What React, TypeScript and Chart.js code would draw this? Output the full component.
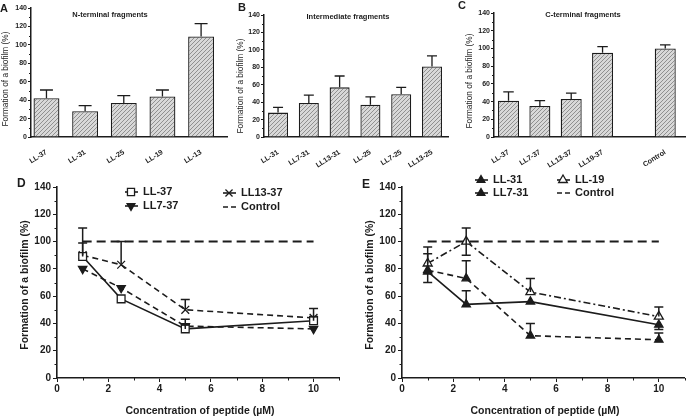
import React, { useEffect, useRef } from 'react';
import { Chart, registerables } from 'chart.js';

Chart.register(...registerables);

const FONT = '"Liberation Sans", Arial, Helvetica, sans-serif';
const INK = '#1c1c1c';

// ---------- Panel A: N-terminal fragments ----------
const A_LABELS = ['LL-37', 'LL-31', 'LL-25', 'LL-19', 'LL-13'];
const A_VALUES = [42, 28, 37, 44, 109];
const A_ERR = [9, 6, 8, 7, 14];

// ---------- Panel B: Intermediate fragments ----------
const B_LABELS = ['LL-31', 'LL7-31', 'LL13-31', 'LL-25', 'LL7-25', 'LL13-25'];
const B_VALUES = [28, 39, 57, 37, 49, 81];
const B_ERR = [6, 9, 13, 9, 8, 12];

// ---------- Panel C: C-terminal fragments ----------
const C_LABELS = ['LL-37', 'LL7-37', 'LL13-37', 'LL19-37', '', 'Control'];
const C_VALUES: (number | null)[] = [41, 35, 43, 95, null, 100];
const C_ERR = [10, 6, 6.5, 7, 0, 4];

// ---------- Panels D and E: concentration series ----------
const CONC = [1, 2.5, 5, 10];
const CONTROL_X = [1, 10];
const CONTROL_Y = [100, 100];

const D_LL37 = [89, 58, 36, 42];
const D_LL37_UP = [21, 0, 3, 3];
const D_LL7_37 = [80, 66, 38, 36];
const D_LL7_37_UP = [0, 0, 5, 0];
const D_LL13_37 = [90, 83, 50, 44];
const D_LL13_37_UP = [9, 17, 7.5, 7];

const E_LL31 = [79, 73, 31, 28];
const E_LL31_UP = [12, 13, 9, 5];
const E_LL31_DOWN = [0, 0, 0, 0];
const E_LL7_31 = [78, 54, 56, 39];
const E_LL7_31_UP = [0, 10, 0, 0];
const E_LL7_31_DOWN = [8, 0, 0, 3.5];
const E_LL19 = [84, 100, 63, 45];
const E_LL19_UP = [12, 10, 10, 7];
const E_LL19_DOWN = [0, 10, 0, 0];

const Y_TICK_STEP = 20;
const Y_MAX = 140;
const Y_MINOR = [10, 30, 50, 70, 90, 110, 130];
const X_MINOR = [1, 3, 5, 7, 9, 11];

function font(size: number, bold = true) {
  return `${bold ? 'bold ' : ''}${size}px ${FONT}`;
}

function makeHatch(): CanvasPattern | string {
  const c = document.createElement('canvas');
  c.width = 4;
  c.height = 4;
  const g = c.getContext('2d');
  if (!g) return '#cfcfcf';
  g.fillStyle = '#d8d8d8';
  g.fillRect(0, 0, 4, 4);
  g.strokeStyle = '#7e7e7e';
  g.lineWidth = 0.8;
  g.beginPath();
  g.moveTo(0, 4); g.lineTo(4, 0);
  g.moveTo(-1, 1); g.lineTo(1, -1);
  g.moveTo(3, 5); g.lineTo(5, 3);
  g.stroke();
  return g.createPattern(c, 'repeat') || '#cfcfcf';
}

function drawMarker(ctx: CanvasRenderingContext2D, style: string, x: number, y: number, r: number, filled: boolean, rot = 0) {
  ctx.save();
  ctx.setLineDash([]);
  ctx.strokeStyle = INK;
  ctx.fillStyle = INK;
  ctx.lineWidth = 1.3;
  ctx.translate(x, y);
  ctx.rotate((rot * Math.PI) / 180);
  ctx.beginPath();
  if (style === 'rect') {
    const s = r * Math.SQRT1_2;
    ctx.rect(-s, -s, 2 * s, 2 * s);
  } else if (style === 'triangle') {
    ctx.moveTo(0, -r);
    ctx.lineTo(r * 0.866, r * 0.5);
    ctx.lineTo(-r * 0.866, r * 0.5);
    ctx.closePath();
  } else if (style === 'crossRot') {
    const s = r * Math.SQRT1_2;
    ctx.moveTo(-s, -s); ctx.lineTo(s, s);
    ctx.moveTo(s, -s); ctx.lineTo(-s, s);
  }
  if (filled && style !== 'crossRot') ctx.fill();
  else if (style !== 'crossRot') { ctx.fillStyle = '#fff'; ctx.fill(); }
  ctx.stroke();
  ctx.restore();
}

type Txt = { text: string; x: number; y: number; font: string; align?: CanvasTextAlign; rot?: number };

function drawTexts(ctx: CanvasRenderingContext2D, texts: Txt[]) {
  texts.forEach((t) => {
    ctx.save();
    ctx.fillStyle = INK;
    ctx.font = t.font;
    ctx.textAlign = t.align || 'center';
    ctx.textBaseline = 'middle';
    ctx.translate(t.x, t.y);
    if (t.rot) ctx.rotate(t.rot);
    ctx.fillText(t.text, 0, 0);
    ctx.restore();
  });
}

function drawMinorY(chart: any, len: number) {
  const ctx = chart.ctx;
  const ys = chart.scales.y;
  const left = chart.chartArea.left;
  ctx.save();
  ctx.strokeStyle = INK;
  ctx.lineWidth = 1;
  ctx.beginPath();
  Y_MINOR.forEach((v) => {
    const y = Math.round(ys.getPixelForValue(v)) + 0.5;
    ctx.moveTo(left - len, y);
    ctx.lineTo(left, y);
  });
  ctx.stroke();
  ctx.restore();
}

function drawMinorX(chart: any, len: number) {
  const ctx = chart.ctx;
  const xs = chart.scales.x;
  const bottom = chart.chartArea.bottom;
  ctx.save();
  ctx.strokeStyle = INK;
  ctx.lineWidth = 1;
  ctx.beginPath();
  X_MINOR.forEach((v) => {
    const x = Math.round(xs.getPixelForValue(v)) + 0.5;
    ctx.moveTo(x, bottom);
    ctx.lineTo(x, bottom + len);
  });
  ctx.stroke();
  ctx.restore();
}

// ---------------- Bar panels ----------------
type BarSpec = {
  left: number; width: number; height: number;
  axisX: number; rightX: number; topY: number; bottomY: number;
  labels: string[]; values: (number | null)[]; errs: number[];
  xMin: number; xMax: number; barPct: number;
  title: string; titleX: number; titleY: number;
  letter: string; letterX: number; letterY: number;
  yTitleX: number; yTitleY: number;
};

function barConfig(s: BarSpec): any {
  const off = s.left;
  const decor = {
    id: 'decor',
    afterDatasetsDraw(chart: any) {
      const ctx = chart.ctx;
      const ys = chart.scales.y;
      chart.data.datasets.forEach((ds: any, di: number) => {
        const meta = chart.getDatasetMeta(di);
        meta.data.forEach((el: any, i: number) => {
          const v = ds.data[i].y;
          const e = ds.err[i];
          if (v == null || !e) return;
          const top = ys.getPixelForValue(v + e);
          const w = el.width / 2;
          ctx.save();
          ctx.strokeStyle = INK;
          ctx.lineWidth = 1.3;
          ctx.beginPath();
          ctx.moveTo(el.x, el.y);
          ctx.lineTo(el.x, top);
          ctx.moveTo(el.x - w / 2, top);
          ctx.lineTo(el.x + w / 2, top);
          ctx.stroke();
          ctx.restore();
        });
      });
    },
    afterDraw(chart: any) {
      drawMinorY(chart, 2);
      drawTexts(chart.ctx, [
        { text: s.title, x: s.titleX - off, y: s.titleY, font: font(7.5) },
        { text: s.letter, x: s.letterX - off, y: s.letterY, font: font(11), align: 'left' },
        { text: 'Formation of a biofilm (%)', x: s.yTitleX - off, y: s.yTitleY, font: font(8.3, false), rot: -Math.PI / 2 },
      ]);
    },
  };
  return {
    type: 'bar',
    data: {
      datasets: [{
        data: s.values.map((y, i) => ({ x: i, y })),
        err: s.errs,
        backgroundColor: makeHatch(),
        borderColor: INK,
        borderWidth: 1.3,
        borderSkipped: 'start',
        barPercentage: s.barPct,
        categoryPercentage: 1,
      }],
    },
    options: {
      animation: false,
      responsive: false,
      devicePixelRatio: 1,
      layout: { padding: { left: 0, top: s.topY, right: s.width - (s.rightX - off), bottom: 0 } },
      plugins: { legend: { display: false }, tooltip: { enabled: false }, title: { display: false } },
      scales: {
        x: {
          type: 'linear', min: s.xMin, max: s.xMax, offset: false,
          afterFit: (sc: any) => { sc.height = s.height - s.bottomY; },
          grid: { display: false, offset: false },
          border: { display: true, color: INK, width: 1.5 },
          ticks: {
            stepSize: 1, includeBounds: false, autoSkip: false, minRotation: 32, maxRotation: 32,
            color: INK, font: { family: FONT, size: 7.2, weight: 'bold' }, padding: 3,
            callback: (v: number) => (Number.isInteger(v) ? s.labels[v] ?? '' : ''),
          },
        },
        y: {
          min: 0, max: Y_MAX,
          afterFit: (sc: any) => { sc.width = s.axisX - off; },
          grid: { display: true, drawOnChartArea: false, drawTicks: true, tickLength: 3, color: INK, lineWidth: 1 },
          border: { display: true, color: INK, width: 1.5 },
          ticks: { stepSize: Y_TICK_STEP, color: INK, font: { family: FONT, size: 7, weight: 'bold' }, padding: 1 },
        },
      },
    },
    plugins: [decor],
  };
}

// ---------------- Line panels ----------------
type Series = {
  label: string; values: number[]; up: number[]; down: number[];
  dash: number[]; style: string; rot: number; r: number; filled: boolean;
};

type LineSpec = {
  left: number; top: number; width: number; height: number;
  axisX: number; topY: number; bottomY: number;
  series: Series[]; letter: string; letterY: number;
  legend: { label: string; dash: number[]; style: string | null; rot: number; r: number; filled: boolean; x: number; y: number }[];
};

function lineConfig(s: LineSpec): any {
  const decor = {
    id: 'decor',
    afterDatasetsDraw(chart: any) {
      const ctx = chart.ctx;
      const ys = chart.scales.y;
      chart.data.datasets.forEach((ds: any, di: number) => {
        if (!ds.up) return;
        const meta = chart.getDatasetMeta(di);
        meta.data.forEach((el: any, i: number) => {
          const v = ds.data[i].y;
          const up = ds.up[i] || 0;
          const dn = ds.down ? ds.down[i] || 0 : 0;
          if (!up && !dn) return;
          const top = ys.getPixelForValue(v + up);
          const bot = ys.getPixelForValue(v - dn);
          ctx.save();
          ctx.setLineDash([]);
          ctx.strokeStyle = INK;
          ctx.lineWidth = 1.5;
          ctx.beginPath();
          ctx.moveTo(el.x, bot);
          ctx.lineTo(el.x, top);
          if (up) { ctx.moveTo(el.x - 4.5, top); ctx.lineTo(el.x + 4.5, top); }
          if (dn) { ctx.moveTo(el.x - 4.5, bot); ctx.lineTo(el.x + 4.5, bot); }
          ctx.stroke();
          ctx.restore();
        });
      });
    },
    afterDraw(chart: any) {
      const ctx = chart.ctx;
      drawMinorY(chart, 2.5);
      drawMinorX(chart, 2.5);
      s.legend.forEach((l) => {
        ctx.save();
        ctx.strokeStyle = INK;
        ctx.lineWidth = 1.6;
        ctx.setLineDash(l.dash);
        ctx.beginPath();
        ctx.moveTo(l.x - 6, l.y);
        ctx.lineTo(l.x + 7, l.y);
        ctx.stroke();
        ctx.restore();
        if (l.style) drawMarker(ctx, l.style, l.x, l.y, l.r, l.filled, l.rot);
      });
      drawTexts(ctx, [
        ...s.legend.map((l) => ({ text: l.label, x: l.x + 12, y: l.y, font: font(11), align: 'left' as CanvasTextAlign })),
        { text: s.letter, x: 17, y: s.letterY, font: font(12), align: 'left' },
        { text: 'Formation of a biofilm (%)', x: 25, y: 120, font: font(10.5, true), rot: -Math.PI / 2 },
        { text: 'Concentration of peptide (\u00b5M)', x: 200, y: 246, font: font(10.5, true) },
      ]);
    },
  };
  const datasets: any[] = s.series.map((se) => ({
    label: se.label,
    data: CONC.map((x, i) => ({ x, y: se.values[i] })),
    up: se.up,
    down: se.down,
    borderColor: INK,
    borderWidth: 1.6,
    borderDash: se.dash,
    pointStyle: se.style,
    pointRotation: se.rot,
    pointRadius: se.r,
    pointBorderWidth: 1.3,
    pointBorderColor: INK,
    pointBackgroundColor: se.filled ? INK : '#ffffff',
    tension: 0,
    fill: false,
  }));
  datasets.push({
    label: 'Control',
    data: CONTROL_X.map((x, i) => ({ x, y: CONTROL_Y[i] })),
    borderColor: INK,
    borderWidth: 2,
    borderDash: [9, 5],
    pointRadius: 0,
    fill: false,
  });
  return {
    type: 'line',
    data: { datasets },
    options: {
      animation: false,
      responsive: false,
      devicePixelRatio: 1,
      layout: { padding: { left: 0, top: s.topY - s.top, right: 0, bottom: 0 } },
      plugins: { legend: { display: false }, tooltip: { enabled: false }, title: { display: false } },
      scales: {
        x: {
          type: 'linear', min: 0, max: 11,
          afterFit: (sc: any) => { sc.height = s.height - (s.bottomY - s.top); },
          grid: { display: true, drawOnChartArea: false, drawTicks: true, tickLength: 4, color: INK, lineWidth: 1 },
          border: { display: true, color: INK, width: 1.6 },
          ticks: { stepSize: 2, includeBounds: false, color: INK, font: { family: FONT, size: 10, weight: 'bold' }, padding: 1, maxRotation: 0 },
        },
        y: {
          min: 0, max: Y_MAX,
          afterFit: (sc: any) => { sc.width = s.axisX - s.left; },
          grid: { display: true, drawOnChartArea: false, drawTicks: true, tickLength: 4, color: INK, lineWidth: 1 },
          border: { display: true, color: INK, width: 1.6 },
          ticks: { stepSize: Y_TICK_STEP, color: INK, font: { family: FONT, size: 10, weight: 'bold' }, padding: 2 },
        },
      },
    },
    plugins: [decor],
  };
}

function ChartBox({ left, top, width, height, make }: { left: number; top: number; width: number; height: number; make: () => any }) {
  const ref = useRef<HTMLCanvasElement | null>(null);
  useEffect(() => {
    if (!ref.current) return;
    const chart = new Chart(ref.current, make());
    return () => chart.destroy();
  }, []);
  return (
    <canvas
      ref={ref}
      width={width}
      height={height}
      style={{ position: 'absolute', left, top, width, height }}
    />
  );
}

const BAR_H = 176;

const SPEC_A: BarSpec = {
  left: 0, width: 232, height: BAR_H, axisX: 31, rightX: 227, topY: 8, bottomY: 137,
  labels: A_LABELS, values: A_VALUES, errs: A_ERR, xMin: -0.4, xMax: 4.67, barPct: 0.67,
  title: 'N-terminal fragments', titleX: 110, titleY: 15,
  letter: 'A', letterX: 0, letterY: 9, yTitleX: 6, yTitleY: 79,
};
const SPEC_B: BarSpec = {
  left: 228, width: 226, height: BAR_H, axisX: 264, rightX: 448, topY: 15, bottomY: 137,
  labels: B_LABELS, values: B_VALUES, errs: B_ERR, xMin: -0.456, xMax: 5.52, barPct: 0.65,
  title: 'Intermediate fragments', titleX: 348, titleY: 17,
  letter: 'B', letterX: 238, letterY: 8, yTitleX: 241, yTitleY: 86,
};
const SPEC_C: BarSpec = {
  left: 455, width: 236, height: BAR_H, axisX: 494, rightX: 685, topY: 13, bottomY: 137,
  labels: C_LABELS, values: C_VALUES, errs: C_ERR, xMin: -0.463, xMax: 5.63, barPct: 0.67,
  title: 'C-terminal fragments', titleX: 583, titleY: 15,
  letter: 'C', letterX: 458, letterY: 6, yTitleX: 470, yTitleY: 81,
};

const SPEC_D: LineSpec = {
  left: 0, top: 165, width: 346, height: 252, axisX: 57, topY: 187, bottomY: 378,
  letter: 'D', letterY: 19,
  series: [
    { label: 'LL-37', values: D_LL37, up: D_LL37_UP, down: [0, 0, 0, 0], dash: [], style: 'rect', rot: 0, r: 5.5, filled: false },
    { label: 'LL7-37', values: D_LL7_37, up: D_LL7_37_UP, down: [0, 0, 0, 0], dash: [6, 4], style: 'triangle', rot: 180, r: 4.8, filled: true },
    { label: 'LL13-37', values: D_LL13_37, up: D_LL13_37_UP, down: [0, 0, 0, 0], dash: [6, 4], style: 'crossRot', rot: 0, r: 5.5, filled: false },
  ],
  legend: [
    { label: 'LL-37', dash: [], style: 'rect', rot: 0, r: 5, filled: false, x: 131, y: 27 },
    { label: 'LL7-37', dash: [], style: 'triangle', rot: 180, r: 4.5, filled: true, x: 131, y: 41 },
    { label: 'LL13-37', dash: [], style: 'crossRot', rot: 0, r: 5, filled: false, x: 229, y: 28 },
    { label: 'Control', dash: [5, 3], style: null, rot: 0, r: 0, filled: false, x: 229, y: 42 },
  ],
};

const SPEC_E: LineSpec = {
  left: 345, top: 165, width: 346, height: 252, axisX: 402, topY: 187, bottomY: 378,
  letter: 'E', letterY: 20,
  series: [
    { label: 'LL-31', values: E_LL31, up: E_LL31_UP, down: E_LL31_DOWN, dash: [6, 4], style: 'triangle', rot: 0, r: 4.8, filled: true },
    { label: 'LL7-31', values: E_LL7_31, up: E_LL7_31_UP, down: E_LL7_31_DOWN, dash: [], style: 'triangle', rot: 0, r: 4.8, filled: true },
    { label: 'LL-19', values: E_LL19, up: E_LL19_UP, down: E_LL19_DOWN, dash: [7, 3, 2, 3], style: 'triangle', rot: 0, r: 5.2, filled: false },
  ],
  legend: [
    { label: 'LL-31', dash: [], style: 'triangle', rot: 0, r: 4.5, filled: true, x: 136, y: 15 },
    { label: 'LL7-31', dash: [], style: 'triangle', rot: 0, r: 4.5, filled: true, x: 136, y: 28 },
    { label: 'LL-19', dash: [], style: 'triangle', rot: 0, r: 5, filled: false, x: 218, y: 15 },
    { label: 'Control', dash: [5, 3], style: null, rot: 0, r: 0, filled: false, x: 218, y: 28 },
  ],
};

export default function App() {
  return (
    <div style={{ position: 'absolute', left: 0, top: 0, width: 691, height: 417, background: '#ffffff', overflow: 'hidden' }}>
      <ChartBox left={SPEC_A.left} top={0} width={SPEC_A.width} height={SPEC_A.height} make={() => barConfig(SPEC_A)} />
      <ChartBox left={SPEC_B.left} top={0} width={SPEC_B.width} height={SPEC_B.height} make={() => barConfig(SPEC_B)} />
      <ChartBox left={SPEC_C.left} top={0} width={SPEC_C.width} height={SPEC_C.height} make={() => barConfig(SPEC_C)} />
      <ChartBox left={SPEC_D.left} top={SPEC_D.top} width={SPEC_D.width} height={SPEC_D.height} make={() => lineConfig(SPEC_D)} />
      <ChartBox left={SPEC_E.left} top={SPEC_E.top} width={SPEC_E.width} height={SPEC_E.height} make={() => lineConfig(SPEC_E)} />
    </div>
  );
}
